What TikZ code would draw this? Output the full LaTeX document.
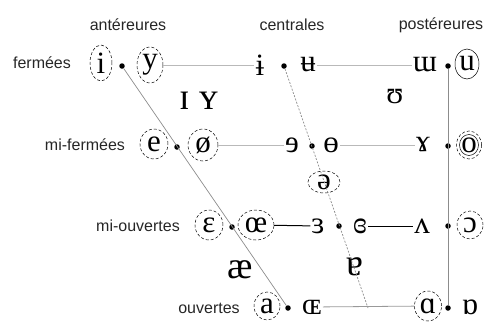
\documentclass[tikz,border=0pt]{standalone}
\usepackage{fontspec}
\setmainfont{Liberation Serif}
\newfontfamily\lblfont{Liberation Sans}
\usetikzlibrary{shapes.geometric}
\begin{document}
\begin{tikzpicture}[x=1pt,y=-1pt,
  lbl/.style={font=\lblfont\fontsize{16}{16}\selectfont, inner sep=0pt, text=black!85},
  ph/.style={font=\fontsize{31}{31}\selectfont, inner sep=1pt},
  big/.style={font=\fontsize{38}{38}\selectfont, inner sep=1pt},
  circ/.style={ph, ellipse, draw, densely dashed, line width=0.5pt, inner sep=0pt, minimum width=26pt, minimum height=28pt},
  scirc/.style={circ, solid},
  pt/.style={circle, fill=black, inner sep=0pt, minimum size=5.5pt},
  lightline/.style={draw=gray!55, line width=0.7pt},
  midline/.style={draw=gray!80, line width=0.8pt},
  darkline/.style={draw=black, line width=1pt},
  diag/.style={draw=gray!90, line width=0.7pt},
  diagdash/.style={draw=gray!90, line width=0.7pt, dash pattern=on 2pt off 1.5pt}
]
\useasboundingbox (0,0) rectangle (491,322);
% headers
\node[lbl] (hA) at (128,25) {antéreures};
\node[lbl] (hC) at (292,25) {centrales};
\node[lbl] (hP) at (441,25) {postéreures};
% row labels
\node[lbl] (r1) at (42,63) {fermées};
\node[lbl] (r2) at (85,145) {mi-fermées};
\node[lbl] (r3) at (138,226) {mi-ouvertes};
\node[lbl] (r4) at (209,308) {ouvertes};
% row 1
\node[circ, minimum width=22pt, minimum height=36pt] (i) at (101,63) {i};
\node[pt] (d1a) at (122,66) {};
\node[circ, minimum width=26pt, minimum height=36pt] (y) at (150,65) {y};
\node[ph] (ib) at (260,65) {ɨ};
\node[pt] (d1c) at (284,66) {};
\node[ph] (ub) at (308,65) {ʉ};
\node[ph] (mw) at (425,65) {ɯ};
\node[pt] (d1p) at (448,66) {};
\node[scirc, minimum width=24pt, minimum height=30pt] (u) at (467,64) {u};
% row 2
\node[scirc, densely dashed, minimum width=28pt, minimum height=30pt] (e) at (154,144) {e};
\node[pt] (d2a) at (177,147) {};
\node[circ, minimum width=30pt, minimum height=32pt] (oe) at (203,145) {ø};
\node[ph] (er) at (292,145) {ɘ};
\node[pt] (d2c) at (312,146) {};
\node[ph] (ob) at (331,145) {ɵ};
\node[ph] (ram) at (423,145) {ɤ};
\node[pt] (d2p) at (448,146) {};
\node[circ, minimum width=25pt, minimum height=28pt] (o) at (469,145) {o};
\node[scirc, minimum width=19pt, minimum height=21pt] (oin) at (469,145) {};
\node[circ, minimum width=32pt, minimum height=22pt] (schwa) at (324,182) {ə};
% row 3
\node[circ, minimum width=28pt, minimum height=30pt] (eps) at (209,225) {ɛ};
\node[pt] (d3a) at (232,227) {};
\node[circ, minimum width=36pt, minimum height=30pt] (oel) at (256,225) {œ};
\node[ph] (rev) at (318,226) {ɜ};
\node[pt] (d3c) at (339,226) {};
\node[ph] (clo) at (360,226) {ɞ};
\node[ph] (wv) at (422,226) {ʌ};
\node[pt] (d3p) at (448,226) {};
\node[circ, minimum width=26pt, minimum height=28pt] (oo) at (470,225) {ɔ};
% row 4
\node[circ, minimum width=26pt, minimum height=28pt] (a) at (267,306) {a};
\node[pt] (d4a) at (288,308) {};
\node[ph] (OE) at (312,307) {ɶ};
\node[circ, minimum width=27pt, minimum height=30pt] (al) at (428,306) {ɑ};
\node[pt] (d4p) at (448,308) {};
\node[ph] (ao) at (470,307) {ɒ};
% loose vowels
\node[big] (ash) at (240,270) {æ};
\node[big] (tur) at (355,267) {ɐ};
\node[big] (sI) at (185,101) {ɪ};
\node[big] (sY) at (209,101) {ʏ};
\node[ph] (hu) at (395,97) {ʊ};
\coordinate (cb) at (368,308);
% lines
\draw[diag] (d1a) -- (d4a);
\draw[diagdash] (d1c) -- (cb);
\draw[diag] (d1p) -- (d4p);
\draw[lightline] (y) -- (ib);
\draw[lightline] (ub) -- (mw);
\draw[lightline] (oe) -- (er);
\draw[lightline] (ob) -- (ram);
\draw[darkline] (oel) -- (rev);
\draw[darkline] (clo) -- (wv);
\draw[midline] (OE) -- (al);
\end{tikzpicture}
\end{document}
